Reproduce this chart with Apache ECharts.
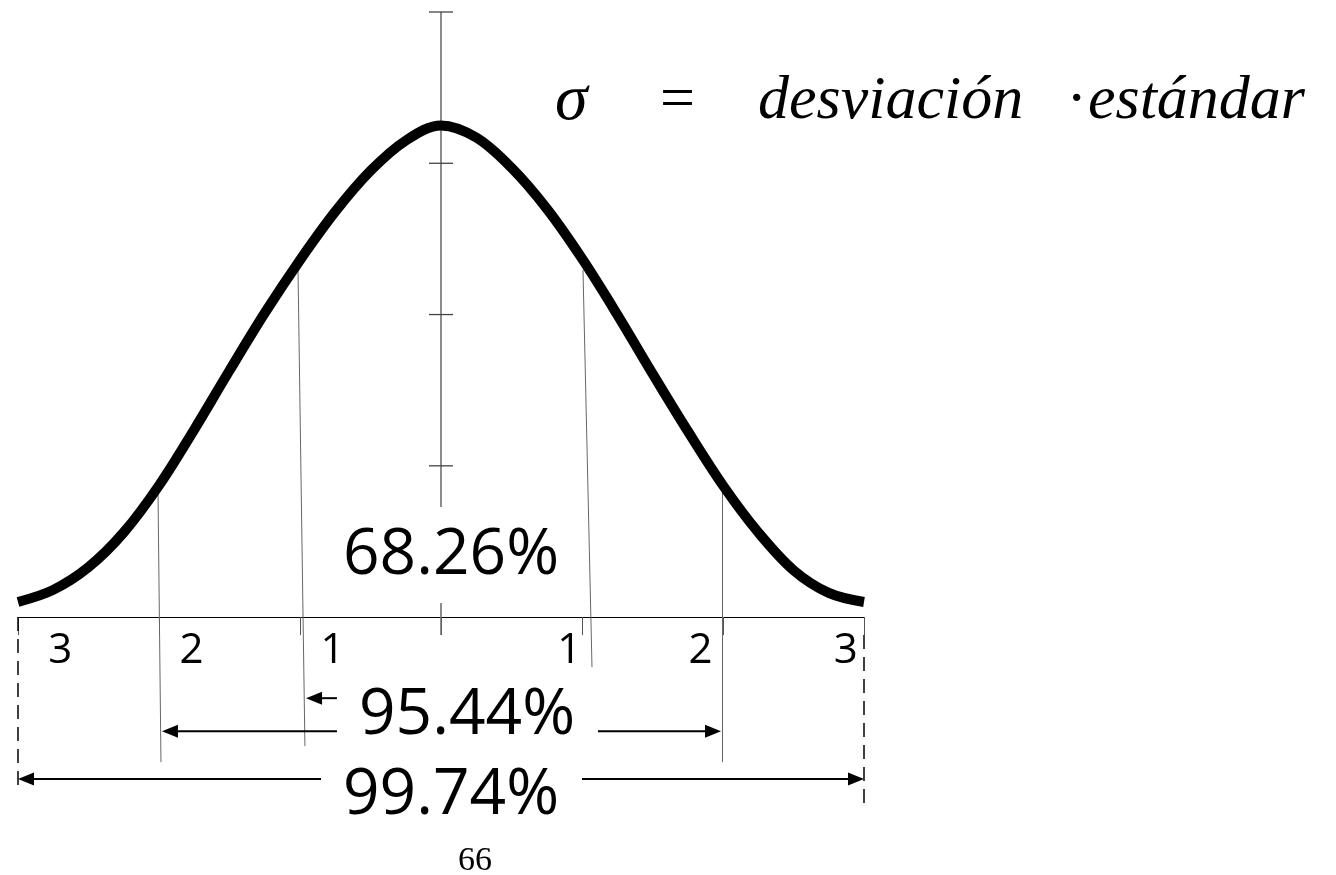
<!DOCTYPE html>
<html>
<head>
<meta charset="utf-8">
<title>Distribución normal</title>
<script src="https://cdn.jsdelivr.net/npm/echarts/dist/echarts.min.js"></script>
<style>
  html, body { margin: 0; padding: 0; background: #fff; }
  #main { width: 1336px; height: 875px; }
</style>
</head>
<body>
<div id="main"></div>
<script>
// bell curve: x in sigmas, y in units of the vertical axis ticks
var curveX = [-3.00, -2.75, -2.50, -2.25, -2.00, -1.75, -1.50, -1.25, -1.00, -0.75, -0.50, -0.25, 0.00,
              0.25, 0.50, 0.75, 1.00, 1.25, 1.50, 1.75, 2.00, 2.25, 2.50, 2.75, 3.00];
var curveY = [0.10, 0.18, 0.33, 0.56, 0.87, 1.24, 1.63, 2.01, 2.36, 2.68, 2.95, 3.15, 3.25,
              3.17, 2.97, 2.70, 2.37, 2.00, 1.61, 1.23, 0.87, 0.56, 0.31, 0.16, 0.10];

// ticks on the vertical axis
var yTicks = [1, 2, 3, 4];

// sigma labels under the base line
var sigmaLabels = ['3', '2', '1', '1', '2', '3'];
var sigmaLabelX = [-2.70, -1.77, -0.77, 0.91, 1.84, 2.87];
var sigmaLabelY = -0.225;

// thin lines dropped from the curve
var dropLines = [
    [[-2.007, 0.826], [-1.986, -0.959]],
    [[-1.014, 2.294], [-0.965, -0.853]],
    [[1.007, 2.294], [1.071, -0.331]],
    [[1.993, 0.840], [1.993, -0.959]]
];
// dashed lines at +-3 sigma
var dashLines = [
    [[-3, 0], [-3, -1.12]],
    [[3, -0.119], [3, -1.24]]
];
// vertical axis and the short mark on the base line
var axisLines = [
    [[0, 0.727], [0, 4]],
    [[0, 0.093], [0, -0.119]]
];

// arrows: [tail x, tip x, y]
var arrows = [
    [-0.738, -1.979, -0.754],
    [1.113, 1.986, -0.754],
    [-0.738, -0.957, -0.536],
    [-0.851, -3.000, -1.071],
    [1.000, 3.000, -1.071]
];

var pctLabels = ['68.26%', '95.44%', '99.74%'];

var curveData = curveX.map(function (x, i) { return [x, curveY[i]]; });
var sansFont = '64px "Open Sans"';

function renderArrow(params, api) {
    var tail = api.coord([api.value(0), api.value(2)]);
    var tip = api.coord([api.value(1), api.value(2)]);
    var dir = tip[0] > tail[0] ? 1 : -1;
    var headLen = 16, headW = 6.5;
    return {
        type: 'group',
        children: [
            {
                type: 'line',
                shape: {x1: tail[0], y1: tail[1], x2: tip[0] - dir * headLen, y2: tip[1]},
                style: {stroke: '#000', lineWidth: 2}
            },
            {
                type: 'polygon',
                shape: {points: [[tip[0], tip[1]], [tip[0] - dir * headLen, tip[1] - headW], [tip[0] - dir * headLen, tip[1] + headW]]},
                style: {fill: '#000'}
            }
        ]
    };
}

var chart = echarts.init(document.getElementById('main'));
var option = {
    animation: false,
    grid: {left: 18, width: 846, top: 12, height: 832},
    xAxis: {
        type: 'value', min: -3, max: 3, interval: 1,
        axisLine: {onZero: true, lineStyle: {color: '#000', width: 1}},
        axisTick: {length: 18, lineStyle: {color: '#555', width: 1}},
        axisLabel: {show: false},
        splitLine: {show: false}
    },
    yAxis: {type: 'value', min: -1.5, max: 4, show: false},
    graphic: [
        // sigma = desviacion estandar
        {type: 'text', x: 555, y: 102, style: {text: 'σ', font: 'italic 66px "Liberation Serif"', fill: '#000', verticalAlign: 'middle'}},
        {type: 'text', x: 660, y: 102, style: {text: '=', font: '62px "Liberation Serif"', fill: '#000', verticalAlign: 'middle'}},
        {type: 'text', x: 758, y: 102, style: {text: 'desviación', font: 'italic 62px "Liberation Serif"', fill: '#000', verticalAlign: 'middle'}},
        {type: 'text', x: 1068, y: 102, style: {text: '·', font: 'italic 62px "Liberation Serif"', fill: '#000', verticalAlign: 'middle'}},
        {type: 'text', x: 1088, y: 102, style: {text: 'estándar', font: 'italic 62px "Liberation Serif"', fill: '#000', verticalAlign: 'middle'}},
        // percentages
        {type: 'text', x: 451, y: 556, style: {text: pctLabels[0], font: sansFont, fill: '#000', align: 'center', verticalAlign: 'middle'}},
        {type: 'text', x: 467, y: 716, style: {text: pctLabels[1], font: sansFont, fill: '#000', align: 'center', verticalAlign: 'middle'}},
        {type: 'text', x: 451, y: 796, style: {text: pctLabels[2], font: sansFont, fill: '#000', align: 'center', verticalAlign: 'middle'}},
        // page number
        {type: 'text', x: 475, y: 861, style: {text: '66', font: '34px "Liberation Serif"', fill: '#000', align: 'center', verticalAlign: 'middle'}}
    ],
    series: [
        {
            type: 'lines', coordinateSystem: 'cartesian2d',
            data: dropLines.map(function (c) { return {coords: c}; }),
            lineStyle: {color: '#666', width: 1, opacity: 1}
        },
        {
            type: 'lines', coordinateSystem: 'cartesian2d',
            data: dashLines.map(function (c) { return {coords: c}; }),
            lineStyle: {color: '#000', width: 1.5, type: [14, 8], opacity: 1}
        },
        {
            type: 'lines', coordinateSystem: 'cartesian2d',
            data: axisLines.map(function (c) { return {coords: c}; }),
            lineStyle: {color: '#666', width: 1.5, opacity: 1}
        },
        {
            // ticks across the vertical axis
            type: 'scatter',
            data: yTicks.map(function (v) { return [0, v]; }),
            symbol: 'rect', symbolSize: [24, 1.3],
            itemStyle: {color: '#444', opacity: 1}
        },
        {
            type: 'line',
            data: curveData,
            smooth: 0.35,
            symbol: 'none',
            lineStyle: {color: '#000', width: 10}
        },
        {
            type: 'custom',
            renderItem: renderArrow,
            encode: {x: [0, 1], y: 2},
            data: arrows
        },
        {
            // 3 2 1 1 2 3 under the base line
            type: 'scatter',
            symbolSize: 0,
            itemStyle: {opacity: 1},
            data: sigmaLabels.map(function (s, i) { return {name: s, value: [sigmaLabelX[i], sigmaLabelY]}; }),
            label: {
                show: true, position: 'inside', formatter: '{b}',
                fontFamily: 'Open Sans', fontSize: 42, color: '#000', opacity: 1
            }
        }
    ]
};
chart.setOption(option);
</script>
</body>
</html>
